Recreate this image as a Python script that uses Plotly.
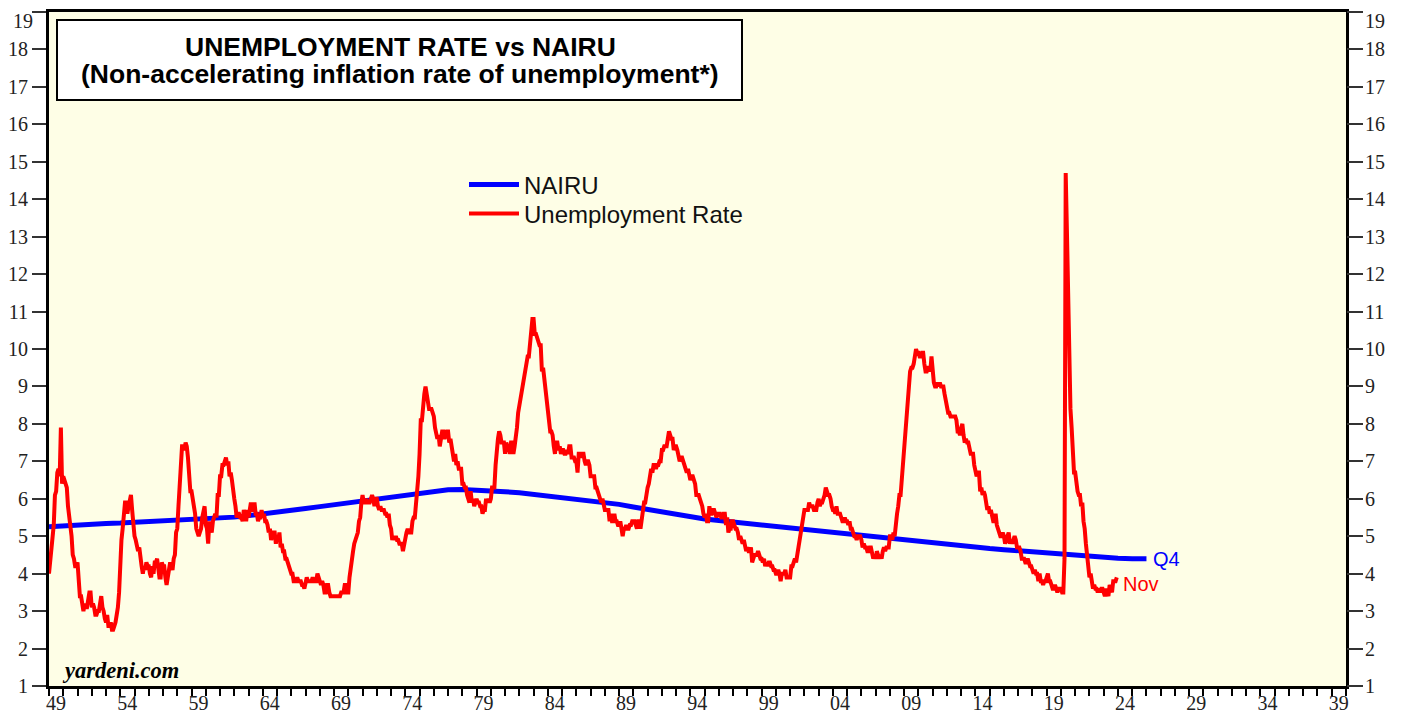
import plotly.graph_objects as go

# ---------------- DATA ----------------
# Monthly unemployment rate (%), starting Dec 1948, ending Nov 2023
ur_1948 = [4.0]
ur_1949_1959 = [
    4.3, 4.7, 5.0, 5.3, 6.1, 6.2, 6.7, 6.8, 6.6, 7.9, 6.4, 6.6,
    6.5, 6.4, 6.3, 5.8, 5.5, 5.4, 5.0, 4.5, 4.4, 4.2, 4.2, 4.3,
    3.7, 3.4, 3.4, 3.1, 3.0, 3.2, 3.1, 3.1, 3.3, 3.5, 3.5, 3.1,
    3.2, 3.1, 2.9, 2.9, 3.0, 3.0, 3.2, 3.4, 3.1, 3.0, 2.8, 2.7,
    2.9, 2.6, 2.6, 2.7, 2.5, 2.5, 2.6, 2.7, 2.9, 3.1, 3.5, 4.5,
    4.9, 5.2, 5.7, 5.9, 5.9, 5.6, 5.8, 6.0, 6.1, 5.7, 5.3, 5.0,
    4.9, 4.7, 4.6, 4.7, 4.3, 4.2, 4.0, 4.2, 4.1, 4.3, 4.2, 4.2,
    4.0, 3.9, 4.2, 4.0, 4.3, 4.3, 4.4, 4.1, 3.9, 3.9, 4.3, 4.2,
    4.2, 3.9, 3.7, 3.9, 4.1, 4.3, 4.2, 4.1, 4.4, 4.5, 5.1, 5.2,
    5.8, 6.4, 6.7, 7.4, 7.4, 7.3, 7.5, 7.4, 7.1, 6.7, 6.2, 6.2,
    6.0, 5.9, 5.6, 5.2, 5.1, 5.0, 5.1, 5.2, 5.5, 5.7, 5.8, 5.3,
]
ur_1960s = [
    5.2, 4.8, 5.4, 5.2, 5.1, 5.4, 5.5, 5.6, 5.5, 6.1, 6.1, 6.6,
    6.6, 6.9, 6.9, 7.0, 7.1, 6.9, 7.0, 6.6, 6.7, 6.5, 6.1, 6.0,
    5.8, 5.5, 5.6, 5.6, 5.5, 5.5, 5.4, 5.7, 5.6, 5.4, 5.7, 5.5,
    5.7, 5.9, 5.7, 5.7, 5.9, 5.6, 5.6, 5.4, 5.5, 5.5, 5.7, 5.5,
    5.6, 5.4, 5.4, 5.3, 5.1, 5.2, 4.9, 5.0, 5.1, 5.1, 4.8, 5.0,
    4.9, 5.1, 4.7, 4.8, 4.6, 4.6, 4.4, 4.4, 4.3, 4.2, 4.1, 4.0,
    4.0, 3.8, 3.8, 3.8, 3.9, 3.8, 3.8, 3.8, 3.7, 3.7, 3.6, 3.8,
    3.9, 3.8, 3.8, 3.8, 3.8, 3.9, 3.8, 3.8, 3.8, 4.0, 3.9, 3.8,
    3.7, 3.8, 3.7, 3.5, 3.5, 3.7, 3.7, 3.5, 3.4, 3.4, 3.4, 3.4,
    3.4, 3.4, 3.4, 3.4, 3.4, 3.5, 3.5, 3.5, 3.7, 3.7, 3.5, 3.5,
]
ur_1970s = [
    3.9, 4.2, 4.4, 4.6, 4.8, 4.9, 5.0, 5.1, 5.4, 5.5, 5.9, 6.1,
    5.9, 5.9, 6.0, 5.9, 5.9, 5.9, 6.0, 6.1, 6.0, 5.8, 6.0, 6.0,
    5.8, 5.7, 5.8, 5.7, 5.7, 5.7, 5.6, 5.6, 5.5, 5.6, 5.3, 5.2,
    4.9, 5.0, 4.9, 5.0, 4.9, 4.9, 4.8, 4.8, 4.8, 4.6, 4.8, 4.9,
    5.1, 5.2, 5.1, 5.1, 5.1, 5.4, 5.5, 5.5, 5.9, 6.0, 6.6, 7.2,
    8.1, 8.1, 8.6, 8.8, 9.0, 8.8, 8.6, 8.4, 8.4, 8.4, 8.3, 8.2,
    7.9, 7.7, 7.6, 7.7, 7.4, 7.6, 7.8, 7.8, 7.6, 7.7, 7.8, 7.8,
    7.5, 7.6, 7.4, 7.2, 7.0, 7.2, 6.9, 7.0, 6.8, 6.8, 6.8, 6.4,
    6.4, 6.3, 6.3, 6.1, 6.0, 5.9, 6.2, 5.9, 6.0, 5.8, 5.9, 6.0,
    5.9, 5.9, 5.8, 5.8, 5.6, 5.7, 5.7, 6.0, 5.9, 6.0, 5.9, 6.0,
]
ur_1980s = [
    6.3, 6.3, 6.3, 6.9, 7.5, 7.6, 7.8, 7.7, 7.5, 7.5, 7.5, 7.2,
    7.5, 7.4, 7.4, 7.2, 7.5, 7.5, 7.2, 7.4, 7.6, 7.9, 8.3, 8.5,
    8.6, 8.9, 9.0, 9.3, 9.4, 9.6, 9.8, 9.8, 10.1, 10.4, 10.8, 10.8,
    10.4, 10.4, 10.3, 10.2, 10.1, 10.1, 9.4, 9.5, 9.2, 8.8, 8.5, 8.3,
    8.0, 7.8, 7.8, 7.7, 7.4, 7.2, 7.5, 7.5, 7.3, 7.4, 7.2, 7.3,
    7.3, 7.2, 7.2, 7.3, 7.2, 7.4, 7.4, 7.1, 7.1, 7.1, 7.0, 7.0,
    6.7, 7.2, 7.2, 7.1, 7.2, 7.2, 7.0, 6.9, 7.0, 7.0, 6.9, 6.6,
    6.6, 6.6, 6.6, 6.3, 6.3, 6.2, 6.1, 6.0, 5.9, 6.0, 5.8, 5.7,
    5.7, 5.7, 5.7, 5.4, 5.6, 5.4, 5.4, 5.6, 5.4, 5.4, 5.3, 5.3,
    5.4, 5.2, 5.0, 5.2, 5.2, 5.3, 5.2, 5.2, 5.3, 5.3, 5.4, 5.4,
]
ur_1990s = [
    5.4, 5.3, 5.2, 5.4, 5.4, 5.2, 5.5, 5.7, 5.9, 5.9, 6.2, 6.3,
    6.4, 6.6, 6.8, 6.7, 6.9, 6.9, 6.8, 6.9, 6.9, 7.0, 7.0, 7.3,
    7.3, 7.4, 7.4, 7.4, 7.6, 7.8, 7.7, 7.6, 7.6, 7.3, 7.4, 7.4,
    7.3, 7.1, 7.0, 7.1, 7.1, 7.0, 6.9, 6.8, 6.7, 6.8, 6.6, 6.5,
    6.6, 6.6, 6.5, 6.4, 6.1, 6.1, 6.1, 6.0, 5.9, 5.8, 5.6, 5.5,
    5.6, 5.4, 5.4, 5.8, 5.6, 5.6, 5.7, 5.7, 5.6, 5.5, 5.6, 5.6,
    5.6, 5.5, 5.5, 5.6, 5.6, 5.3, 5.5, 5.1, 5.2, 5.2, 5.4, 5.4,
    5.3, 5.2, 5.2, 5.1, 4.9, 5.0, 4.9, 4.8, 4.9, 4.7, 4.6, 4.7,
    4.6, 4.6, 4.7, 4.3, 4.4, 4.5, 4.5, 4.5, 4.6, 4.5, 4.4, 4.4,
    4.3, 4.4, 4.2, 4.3, 4.2, 4.3, 4.3, 4.2, 4.2, 4.1, 4.1, 4.0,
]
ur_2000s = [
    4.0, 4.1, 4.0, 3.8, 4.0, 4.0, 4.0, 4.1, 3.9, 3.9, 3.9, 3.9,
    4.2, 4.2, 4.3, 4.4, 4.3, 4.5, 4.6, 4.9, 5.0, 5.3, 5.5, 5.7,
    5.7, 5.7, 5.7, 5.9, 5.8, 5.8, 5.8, 5.7, 5.7, 5.7, 5.9, 6.0,
    5.8, 5.9, 5.9, 6.0, 6.1, 6.3, 6.2, 6.1, 6.1, 6.0, 5.8, 5.7,
    5.7, 5.6, 5.8, 5.6, 5.6, 5.6, 5.5, 5.4, 5.4, 5.5, 5.4, 5.4,
    5.3, 5.4, 5.2, 5.2, 5.1, 5.0, 5.0, 4.9, 5.0, 5.0, 5.0, 4.9,
    4.7, 4.8, 4.7, 4.7, 4.6, 4.6, 4.7, 4.7, 4.5, 4.4, 4.5, 4.4,
    4.6, 4.5, 4.4, 4.5, 4.4, 4.6, 4.7, 4.6, 4.7, 4.7, 4.7, 5.0,
    5.0, 4.9, 5.1, 5.0, 5.4, 5.6, 5.8, 6.1, 6.1, 6.5, 6.8, 7.3,
    7.8, 8.3, 8.7, 9.0, 9.4, 9.5, 9.5, 9.6, 9.8, 10.0, 9.9, 9.9,
]
ur_2010s = [
    9.8, 9.8, 9.9, 9.9, 9.6, 9.4, 9.4, 9.5, 9.5, 9.4, 9.8, 9.3,
    9.1, 9.0, 9.0, 9.1, 9.0, 9.1, 9.0, 9.0, 9.0, 8.8, 8.6, 8.5,
    8.3, 8.3, 8.2, 8.2, 8.2, 8.2, 8.2, 8.1, 7.8, 7.8, 7.7, 7.9,
    8.0, 7.7, 7.5, 7.6, 7.5, 7.5, 7.3, 7.2, 7.2, 7.2, 6.9, 6.7,
    6.6, 6.7, 6.7, 6.2, 6.3, 6.1, 6.2, 6.1, 5.9, 5.7, 5.8, 5.6,
    5.7, 5.5, 5.4, 5.4, 5.6, 5.3, 5.2, 5.1, 5.0, 5.0, 5.1, 5.0,
    4.8, 4.9, 5.0, 5.1, 4.8, 4.9, 4.8, 4.9, 5.0, 4.9, 4.7, 4.7,
    4.7, 4.6, 4.4, 4.4, 4.4, 4.3, 4.3, 4.4, 4.3, 4.2, 4.2, 4.1,
    4.0, 4.1, 4.0, 4.0, 3.8, 4.0, 3.8, 3.8, 3.7, 3.8, 3.8, 3.9,
    4.0, 3.8, 3.8, 3.7, 3.6, 3.6, 3.7, 3.6, 3.5, 3.6, 3.6, 3.6,
]
ur_2020s = [
    3.5, 3.5, 4.4, 14.7, 13.2, 11.0, 10.2, 8.4, 7.9, 6.9, 6.7, 6.7,
    6.4, 6.2, 6.1, 6.1, 5.8, 5.9, 5.4, 5.2, 4.8, 4.5, 4.2, 3.9,
    4.0, 3.8, 3.6, 3.7, 3.6, 3.6, 3.5, 3.6, 3.5, 3.6, 3.6, 3.5,
    3.4, 3.6, 3.5, 3.4, 3.7, 3.6, 3.5, 3.8, 3.8, 3.8, 3.9,
]

# NAIRU (%), annual points (start of year), 1949 .. 2026 (= end of 2025 Q4)
nairu_start_year = 1949
nairu_values = [
    5.25, 5.28, 5.30, 5.32, 5.34, 5.35, 5.37, 5.38, 5.40, 5.41,
    5.43, 5.45, 5.48, 5.51, 5.55, 5.59, 5.64, 5.69, 5.74, 5.79,
    5.84, 5.89, 5.95, 6.01, 6.07, 6.12, 6.17, 6.21, 6.24, 6.25,
    6.24, 6.22, 6.19, 6.16, 6.12, 6.08, 6.04, 5.99, 5.94, 5.89,
    5.85, 5.78, 5.71, 5.64, 5.57, 5.51, 5.46, 5.42, 5.38, 5.33,
    5.29, 5.25, 5.21, 5.17, 5.13, 5.10, 5.06, 5.01, 4.96, 4.92,
    4.89, 4.86, 4.82, 4.78, 4.74, 4.70, 4.67, 4.64, 4.61, 4.58,
    4.54, 4.51, 4.48, 4.45, 4.42, 4.41, 4.40, 4.40,
]

x_tick_years = list(range(1949, 2041))
x_label_years = list(range(1949, 2040, 5))
y_ticks = list(range(1, 20))
y_top_label = "19"

# ---------------- BUILD ----------------
unrate = ur_1948 + ur_1949_1959 + ur_1960s + ur_1970s + ur_1980s + ur_1990s + ur_2000s + ur_2010s + ur_2020s
ur_x = [1949 + i / 12 for i in range(len(unrate))]
nairu_x = [nairu_start_year + i for i in range(len(nairu_values))]

tick_text = [("%02d" % (y % 100)) if y in x_label_years else "" for y in x_tick_years]
# top label is drawn separately (nudged down like in the reference so it is not clipped)
y_tick_text = [str(v) if str(v) != y_top_label else "" for v in y_ticks]

# page body adds an 8px offset; figure is sized so the plot lands where the reference has it
W, H = 1397, 709
PL, PR, PT, PB = 49, 1346, 12, 686      # plot box in screen pixels
def px(xs):
    return (xs - PL) / (PR - PL)
def py(ys):
    return (PB - ys) / (PB - PT)

legend_font = dict(family="Liberation Sans, Arial", size=24, color="#111")

fig = go.Figure()
fig.add_trace(go.Scatter(x=nairu_x, y=nairu_values, mode="lines", name="NAIRU",
                         line=dict(color="#0000FF", width=5), legend="legend"))
fig.add_trace(go.Scatter(x=ur_x, y=unrate, mode="lines", name="Unemployment Rate",
                         line=dict(color="#FF0000", width=4), legend="legend2"))
fig.add_trace(go.Scatter(x=[1949], y=[1], yaxis="y2", mode="markers",
                         marker=dict(opacity=0), showlegend=False, hoverinfo="skip"))

tick_family = "Liberation Serif, Times New Roman, serif"
tickfont = dict(family=tick_family, size=20, color="#222222")
xtickfont = dict(family=tick_family, size=20, color="#222222")

fig.update_layout(
    width=W, height=H,
    margin=dict(l=PL - 8, r=W - (PR - 8), t=PT - 8, b=H - (PB - 8), autoexpand=False),
    paper_bgcolor="white",
    plot_bgcolor="#FEFEE6",
    showlegend=True,
    legend=dict(x=px(464), y=py(185), xanchor="left", yanchor="middle",
                bgcolor="rgba(0,0,0,0)", font=legend_font, itemwidth=50),
    legend2=dict(x=px(464), y=py(214), xanchor="left", yanchor="middle",
                 bgcolor="rgba(0,0,0,0)", font=legend_font, itemwidth=50),
    xaxis=dict(range=[1949, 2040], tickmode="array", tickvals=x_tick_years, ticktext=tick_text,
               ticks="outside", ticklen=7, tickwidth=2, tickcolor="black",
               showline=True, linewidth=3, linecolor="black", mirror=True,
               showgrid=False, zeroline=False, tickfont=xtickfont, ticklabelshift=7,
               ticklabelstandoff=-10, automargin=False),
    yaxis=dict(range=[1, 19], tickmode="array", tickvals=y_ticks, ticktext=y_tick_text,
               ticks="outside", ticklen=14, tickwidth=2, tickcolor="#333",
               showline=True, linewidth=3, linecolor="black", mirror="allticks",
               showgrid=False, zeroline=False, tickfont=tickfont, automargin=False,
               ticklabeloverflow="allow"),
    yaxis2=dict(range=[1, 19], tickmode="array", tickvals=y_ticks, ticktext=y_tick_text,
                overlaying="y", side="right",
                ticks="outside", ticklen=14, tickwidth=2, tickcolor="#333",
                showline=False, showgrid=False, zeroline=False, tickfont=tickfont, automargin=False,
                ticklabeloverflow="allow"),
)

# top "19" labels on both sides
fig.add_annotation(xref="paper", yref="paper", x=px(34), y=py(21), xanchor="right", yanchor="middle",
                   text=y_top_label, showarrow=False, font=tickfont, borderpad=0)
fig.add_annotation(xref="paper", yref="paper", x=px(1364), y=py(21), xanchor="left", yanchor="middle",
                   text=y_top_label, showarrow=False, font=tickfont, borderpad=0)

# Title box
fig.add_shape(type="rect", xref="paper", yref="paper",
              x0=px(57), x1=px(742), y0=py(100), y1=py(20),
              fillcolor="white", line=dict(color="black", width=2), layer="above")
title_font = dict(family="Liberation Sans, Arial", size=26.5, color="black")
fig.add_annotation(xref="paper", yref="paper", x=px(400), y=py(47), xanchor="center", yanchor="middle",
                   text="<b>UNEMPLOYMENT RATE vs NAIRU</b>", showarrow=False, font=title_font)
fig.add_annotation(xref="paper", yref="paper", x=px(400), y=py(74), xanchor="center", yanchor="middle",
                   text="<b>(Non-accelerating inflation rate of unemployment*)</b>", showarrow=False, font=title_font)

fig.add_annotation(x=2026.3, y=4.4, xanchor="left", yanchor="middle", text="Q4", showarrow=False,
                   font=dict(family="Liberation Sans, Arial", size=20, color="#0000FF"))
fig.add_annotation(x=2024.2, y=3.72, xanchor="left", yanchor="middle", text="Nov", showarrow=False,
                   font=dict(family="Liberation Sans, Arial", size=20, color="#FF0000"))
fig.add_annotation(xref="paper", yref="paper", x=px(60), y=py(670), xanchor="left", yanchor="middle",
                   text="<b><i>yardeni.com</i></b>", showarrow=False,
                   font=dict(family="Liberation Serif, Times New Roman, serif", size=22.5, color="black"))

fig.write_html("out.html")
